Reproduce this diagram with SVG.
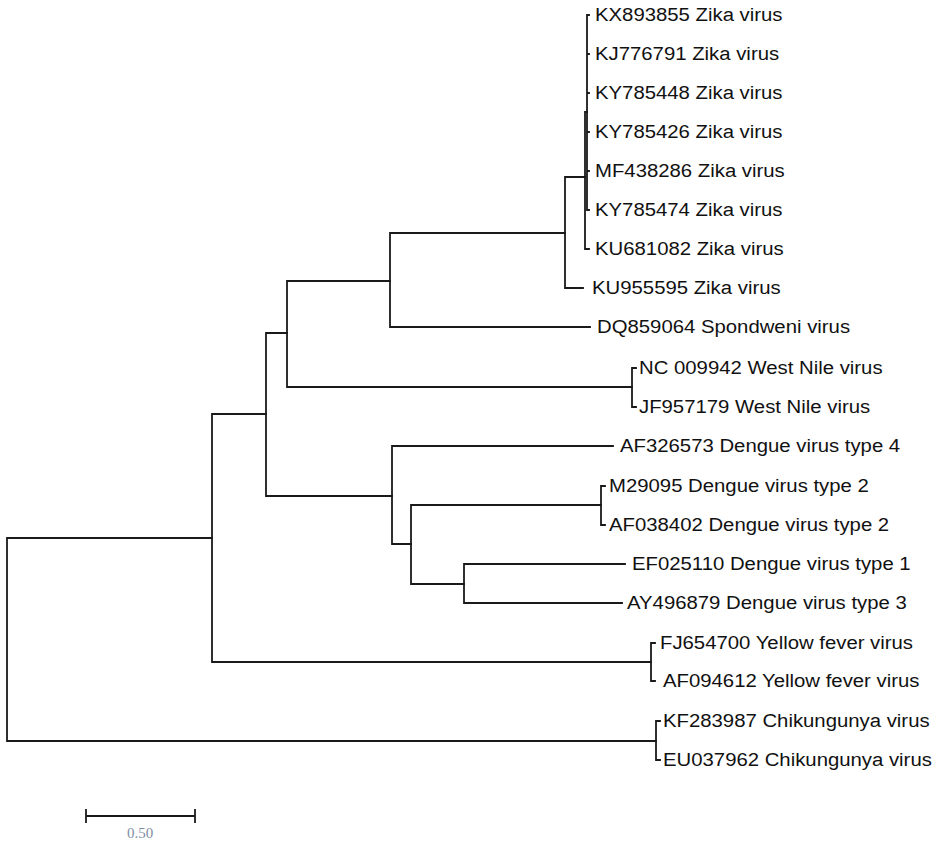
<svg xmlns="http://www.w3.org/2000/svg" width="935" height="842" viewBox="0 0 935 842">
<style>
.e{fill:none;stroke:#1a1a1a;stroke-width:1.8;stroke-linecap:square}
.t{font-family:"Liberation Sans",Arial,sans-serif;font-size:18px;fill:#111}
.s{font-family:"Liberation Serif","Times New Roman",serif;font-size:15px;fill:#7d8ea3}
</style>
<rect width="935" height="842" fill="#fff"/>
<g id="connectors" class="e">
<path d="M7,538V741M7,538H212M7,741H656"/>
<path d="M212,414V662M212,414H266M212,662H651"/>
<path d="M266,333V496M266,333H287M266,496H392"/>
<path d="M287,281V387M287,281H390M287,387H632"/>
<path d="M390,233V327M390,233H565M390,327H590"/>
<path d="M565,177V288M565,177H585M565,288H583"/>
<path d="M585,112V249M585,249H589M585,112H587"/>
<path d="M587,15V210M587,15H589M587,54H589M587,93H589M587,132H589M587,171H589M587,210H589"/>
<path d="M632,368V407M632,368H636M632,407H636"/>
<path d="M392,446V544M392,446H613M392,544H411"/>
<path d="M411,505V584M411,505H601M411,584H464"/>
<path d="M601,486V525M601,486H605M601,525H605"/>
<path d="M464,564V603M464,564H625M464,603H622"/>
<path d="M651,643V681M651,643H655M651,681H655"/>
<path d="M656,721V760M656,721H660M656,760H660"/>
</g>
<g id="n1"><text class="t" transform="translate(595,21) scale(1.13,1)">KX893855 Zika virus</text></g>
<g id="n2"><text class="t" transform="translate(595,60) scale(1.13,1)">KJ776791 Zika virus</text></g>
<g id="n3"><text class="t" transform="translate(595,99) scale(1.13,1)">KY785448 Zika virus</text></g>
<g id="n4"><text class="t" transform="translate(595,138) scale(1.13,1)">KY785426 Zika virus</text></g>
<g id="n5"><text class="t" transform="translate(595,177) scale(1.13,1)">MF438286 Zika virus</text></g>
<g id="n6"><text class="t" transform="translate(595,216) scale(1.13,1)">KY785474 Zika virus</text></g>
<g id="n7"><text class="t" transform="translate(595,255) scale(1.13,1)">KU681082 Zika virus</text></g>
<g id="n8"><text class="t" transform="translate(592,294) scale(1.13,1)">KU955595 Zika virus</text></g>
<g id="n9"><text class="t" transform="translate(597,333) scale(1.13,1)">DQ859064 Spondweni virus</text></g>
<g id="n10"><text class="t" transform="translate(639,374) scale(1.13,1)">NC 009942 West Nile virus</text></g>
<g id="n11"><text class="t" transform="translate(639,413) scale(1.13,1)">JF957179 West Nile virus</text></g>
<g id="n12"><text class="t" transform="translate(620,452) scale(1.13,1)">AF326573 Dengue virus type 4</text></g>
<g id="n13"><text class="t" transform="translate(609,492) scale(1.13,1)">M29095 Dengue virus type 2</text></g>
<g id="n14"><text class="t" transform="translate(609,531) scale(1.13,1)">AF038402 Dengue virus type 2</text></g>
<g id="n15"><text class="t" transform="translate(632,570) scale(1.13,1)">EF025110 Dengue virus type 1</text></g>
<g id="n16"><text class="t" transform="translate(627,609) scale(1.13,1)">AY496879 Dengue virus type 3</text></g>
<g id="n17"><text class="t" transform="translate(660,649) scale(1.13,1)">FJ654700 Yellow fever virus</text></g>
<g id="n18"><text class="t" transform="translate(663,687) scale(1.13,1)">AF094612 Yellow fever virus</text></g>
<g id="n19"><text class="t" transform="translate(663,727) scale(1.13,1)">KF283987 Chikungunya virus</text></g>
<g id="n20"><text class="t" transform="translate(663,766) scale(1.13,1)">EU037962 Chikungunya virus</text></g>
<g id="scalebar">
<path class="e" d="M86,816H195M86,810V822M195,810V822"/>
<text class="s" x="140" y="838" text-anchor="middle">0.50</text>
</g>
</svg>
